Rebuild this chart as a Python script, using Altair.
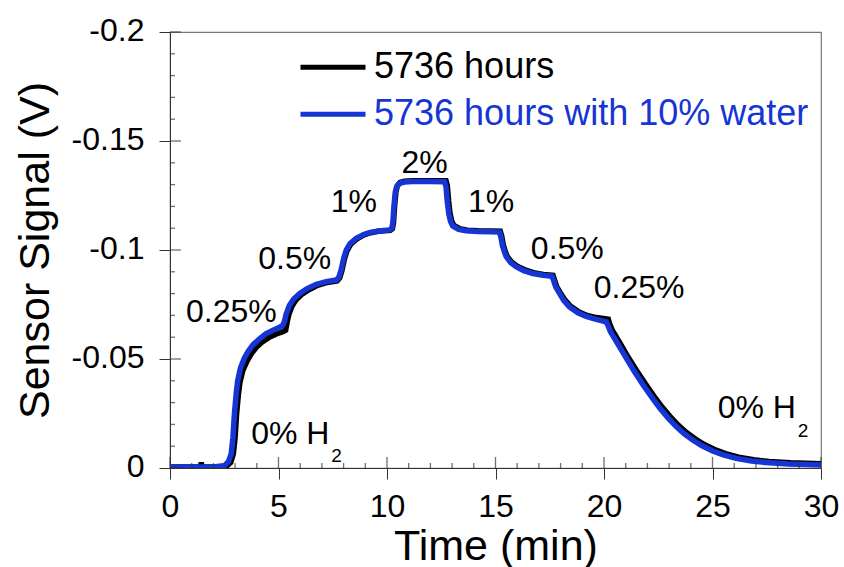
import altair as alt
import pandas as pd

FONT = "Liberation Sans"

series_names = ["5736 hours", "5736 hours with 10% water"]
series_colors = ["#000000", "#1535d5"]

# 5736 hours (black)
t_black = [0, 1.0, 1.40, 1.44, 1.48, 2.0, 2.6, 2.8, 2.92, 3.0, 3.07, 3.15, 3.22, 3.35, 3.55, 3.75,
           3.97, 4.25, 4.55, 4.9, 5.2, 5.33, 5.4, 5.48, 5.62, 5.8, 6.05, 6.4, 6.8, 7.25, 7.7, 7.82,
           7.92, 8.03, 8.15, 8.33, 8.6, 8.92, 9.2, 9.6, 10.15, 10.25, 10.3, 10.35, 10.41, 10.48,
           10.6, 10.8, 11.2, 12.0, 12.72, 12.78, 12.84, 12.9, 12.98, 13.08, 13.35, 13.7, 14.2,
           14.8, 15.22, 15.29, 15.36, 15.44, 15.53, 15.74, 16.0, 16.35, 16.75, 17.2, 17.65, 17.72,
           17.82, 17.99, 18.2, 18.45, 18.85, 19.22, 19.65, 20.2, 20.26, 20.38, 20.7, 21.1, 21.5,
           21.9, 22.3, 22.66, 23.05, 23.43, 23.8, 24.2, 24.6, 25.1, 25.6, 26.2, 26.9, 27.6, 28.6, 30]
v_black = [-0.0005, -0.0005, -0.0005, -0.0025, -0.0005, -0.0005, -0.0008, -0.0025, -0.0065,
           -0.0140, -0.0250, -0.0335, -0.0390, -0.0445, -0.0490, -0.0525, -0.0553, -0.0578,
           -0.0598, -0.0615, -0.0625, -0.0632, -0.0670, -0.0705, -0.0742, -0.0770, -0.0795,
           -0.0818, -0.0838, -0.0851, -0.0858, -0.0872, -0.0905, -0.0955, -0.0995, -0.1027,
           -0.1050, -0.1068, -0.1078, -0.1086, -0.1090, -0.1098, -0.1125, -0.1200, -0.1265,
           -0.1295, -0.1310, -0.1316, -0.1318, -0.1318, -0.1318, -0.1295, -0.1225, -0.1170,
           -0.1133, -0.1113, -0.1098, -0.1091, -0.1088, -0.1087, -0.1086, -0.1062, -0.1022,
           -0.0997, -0.0972, -0.0945, -0.0926, -0.0909, -0.0896, -0.0888, -0.0884, -0.0862,
           -0.0832, -0.0803, -0.0771, -0.0743, -0.0716, -0.0700, -0.0690, -0.0682, -0.0662,
           -0.0632, -0.0580, -0.0510, -0.0447, -0.0387, -0.0330, -0.0282, -0.0236, -0.0196,
           -0.0163, -0.0134, -0.0109, -0.0085, -0.0066, -0.0050, -0.0038, -0.0030, -0.0024, -0.0020]

# 5736 hours with 10% water (blue)
t_blue = [0, 1.0, 2.0, 2.5, 2.7, 2.82, 2.9, 2.97, 3.05, 3.12, 3.25, 3.43, 3.6, 3.82, 4.1, 4.43,
          4.75, 5.05, 5.2, 5.28, 5.35, 5.5, 5.7, 5.97, 6.3, 6.74, 7.2, 7.66, 7.78, 7.89, 8.0, 8.12,
          8.3, 8.58, 8.9, 9.19, 9.6, 10.12, 10.22, 10.27, 10.32, 10.38, 10.45, 10.58, 10.8, 11.19,
          12.0, 12.65, 12.72, 12.78, 12.85, 12.93, 13.03, 13.3, 13.65, 14.2, 14.8, 15.18, 15.25,
          15.32, 15.4, 15.49, 15.7, 15.95, 16.3, 16.72, 17.2, 17.6, 17.68, 17.78, 17.95, 18.15,
          18.41, 18.8, 19.18, 19.6, 20.1, 20.18, 20.3, 20.6, 21.02, 21.4, 21.79, 22.2, 22.56,
          22.95, 23.33, 23.7, 24.09, 24.5, 25.01, 25.5, 26.09, 26.8, 27.47, 28.5, 30]
v_blue = [-0.0005, -0.0005, -0.0005, -0.0010, -0.0030, -0.0065, -0.0140, -0.0250, -0.0340,
          -0.0400, -0.0460, -0.0505, -0.0535, -0.0565, -0.0590, -0.0617, -0.0632, -0.0645,
          -0.0655, -0.0675, -0.0705, -0.0745, -0.0775, -0.0800, -0.0822, -0.0843, -0.0855,
          -0.0862, -0.0875, -0.0910, -0.0960, -0.1000, -0.1030, -0.1054, -0.1070, -0.1080,
          -0.1087, -0.1092, -0.1100, -0.1125, -0.1200, -0.1265, -0.1292, -0.1306, -0.1312,
          -0.1314, -0.1314, -0.1313, -0.1290, -0.1220, -0.1165, -0.1130, -0.1110, -0.1095,
          -0.1088, -0.1085, -0.1084, -0.1082, -0.1060, -0.1020, -0.0995, -0.0970, -0.0942,
          -0.0923, -0.0905, -0.0892, -0.0884, -0.0880, -0.0860, -0.0830, -0.0801, -0.0768,
          -0.0739, -0.0712, -0.0695, -0.0683, -0.0670, -0.0655, -0.0625, -0.0575, -0.0505,
          -0.0443, -0.0383, -0.0325, -0.0276, -0.0230, -0.0190, -0.0157, -0.0128, -0.0103,
          -0.0078, -0.0060, -0.0044, -0.0032, -0.0025, -0.0018, -0.0014]

x_major = [0, 5, 10, 15, 20, 25, 30]
x_minor = [i for i in range(0, 31) if i % 5 != 0]
y_major = [-0.2, -0.15, -0.1, -0.05, 0]
y_minor = [round(-0.01 * i, 2) for i in range(21) if i % 5 != 0]

# concentration annotations
ann_text = ["0.25%", "0.5%", "1%", "2%", "1%", "0.5%", "0.25%"]
ann_t = [2.83, 5.75, 8.47, 11.73, 14.80, 18.31, 21.62]
ann_v = [-0.0670, -0.0911, -0.1176, -0.1355, -0.1176, -0.0957, -0.0778]

h2_text = ["0% H", "0% H"]
h2_t = [3.74, 25.24]
h2_v = [-0.0111, -0.0231]
sub_text = ["2", "2"]
sub_t = [7.43, 28.93]
sub_v = [-0.0027, -0.0142]

df = pd.concat([
    pd.DataFrame({"t": t_black, "v": v_black, "series": series_names[0]}),
    pd.DataFrame({"t": t_blue, "v": v_blue, "series": series_names[1]}),
], ignore_index=True)
ann_df = pd.DataFrame({"t": ann_t, "v": ann_v, "label": ann_text})
h2_df = pd.DataFrame({"t": h2_t, "v": h2_v, "label": h2_text})
sub_df = pd.DataFrame({"t": sub_t, "v": sub_v, "label": sub_text})
xmaj_df = pd.DataFrame({"t": x_major, "v": [0] * len(x_major)})
xmin_df = pd.DataFrame({"t": x_minor, "v": [0] * len(x_minor)})
ymaj_df = pd.DataFrame({"t": [0] * len(y_major), "v": y_major})
ymin_df = pd.DataFrame({"t": [0] * len(y_minor), "v": y_minor})

xs = alt.Scale(domain=[0, 30], nice=False, zero=False)
ys = alt.Scale(domain=[-0.2, 0], reverse=True, nice=False, zero=False)
AX = "#333333"
TK = "#333333"

lines = alt.Chart(df).mark_line(strokeWidth=5.5, clip=True).encode(
    x=alt.X("t:Q", scale=xs, axis=alt.Axis(
        orient="bottom", values=x_major, tickSize=11, tickColor=AX, domainColor=AX,
        labelFontSize=32, labelFont=FONT, labelColor="black", labelBaseline="alphabetic",
        labelPadding=37, labelFlush=False, labelOverlap=False, grid=False,
        title="Time (min)", titleFont=FONT, titleFontSize=43, titleFontWeight="normal",
        titleColor="black", titleBaseline="alphabetic", titleY=91)),
    y=alt.Y("v:Q", scale=ys, axis=alt.Axis(
        orient="left", values=y_major, tickSize=11, tickColor=AX, domainColor=AX,
        labelFontSize=32, labelFont=FONT, labelColor="black", labelPadding=15, labelOffset=-2,
        labelExpr="datum.value == 0 ? '0' : '' + datum.value",
        labelFlush=False, labelOverlap=False, grid=False,
        title="Sensor Signal (V)", titleFont=FONT, titleFontSize=43, titleFontWeight="normal",
        titleColor="black", titleBaseline="alphabetic", titleX=-122)),
    color=alt.Color("series:N", scale=alt.Scale(domain=series_names, range=series_colors),
                    legend=alt.Legend(
                        title=None, orient="none", legendX=128, legendY=12, padding=0,
                        symbolType="stroke", symbolSize=4225, symbolStrokeWidth=5,
                        labelFont=FONT, labelFontSize=36, labelOffset=6, rowPadding=0,
                        clipHeight=46.5, labelLimit=600,
                        labelColor={"expr": "datum.label == '5736 hours' ? '#000000' : '#1535d5'"})),
)

# inner halves of the tick marks (outer halves are drawn by the axes)
xmaj = alt.Chart(xmaj_df).mark_tick(orient="vertical", size=11, thickness=1.3, yOffset=-5.5,
                                     color=TK, clip=False).encode(
    x=alt.X("t:Q", scale=xs, axis=None), y=alt.Y("v:Q", scale=ys, axis=None))
xmin = alt.Chart(xmin_df).mark_tick(orient="vertical", size=5, thickness=1.3, yOffset=-2.5,
                                     color=TK, clip=False).encode(
    x=alt.X("t:Q", scale=xs, axis=None), y=alt.Y("v:Q", scale=ys, axis=None))
ymaj = alt.Chart(ymaj_df).mark_tick(orient="horizontal", size=11, thickness=1.3, xOffset=5.5,
                                     color=TK, clip=False).encode(
    x=alt.X("t:Q", scale=xs, axis=None), y=alt.Y("v:Q", scale=ys, axis=None))
ymin = alt.Chart(ymin_df).mark_tick(orient="horizontal", size=5, thickness=1.3, xOffset=2.5,
                                     color=TK, clip=False).encode(
    x=alt.X("t:Q", scale=xs, axis=None), y=alt.Y("v:Q", scale=ys, axis=None))

ann = alt.Chart(ann_df).mark_text(font=FONT, fontSize=32, align="center",
                                  baseline="alphabetic", color="black").encode(
    x=alt.X("t:Q", scale=xs, axis=None), y=alt.Y("v:Q", scale=ys, axis=None), text="label:N")

h2 = alt.Chart(h2_df).mark_text(font=FONT, fontSize=32, align="left",
                                baseline="alphabetic", color="black").encode(
    x=alt.X("t:Q", scale=xs, axis=None), y=alt.Y("v:Q", scale=ys, axis=None), text="label:N")

sub = alt.Chart(sub_df).mark_text(font=FONT, fontSize=19, align="left",
                                  baseline="alphabetic", color="black").encode(
    x=alt.X("t:Q", scale=xs, axis=None), y=alt.Y("v:Q", scale=ys, axis=None), text="label:N")

chart = alt.layer(lines, xmaj, xmin, ymaj, ymin, ann, h2, sub).resolve_axis(
    x="independent", y="independent"
).properties(
    width=651, height=436,
    autosize=alt.AutoSizeParams(type="none"),
    padding={"left": 170, "top": 32, "right": 23, "bottom": 99},
    background="white",
).configure_view(stroke="#777777", strokeWidth=1.2)

chart.save("out.html", embed_options={"renderer": "svg", "actions": False})
